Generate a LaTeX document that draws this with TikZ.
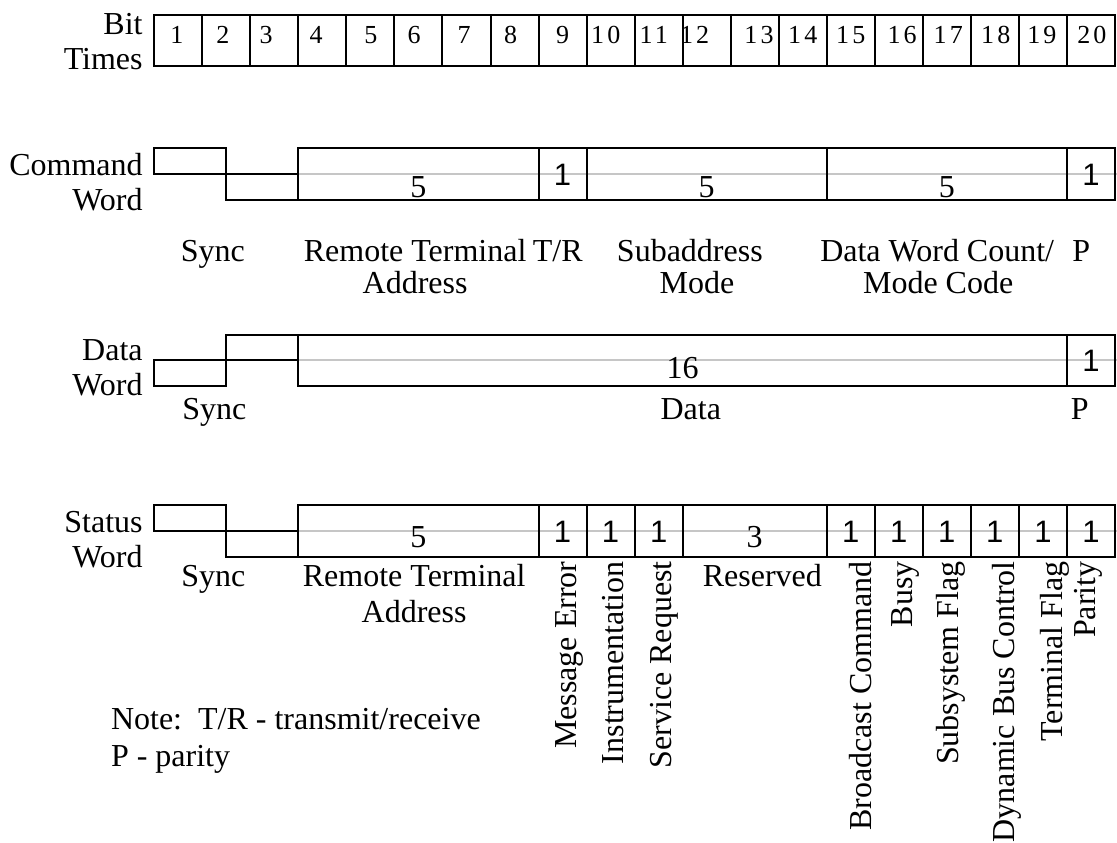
\documentclass[tikz,border=0pt]{standalone}
\usepackage{fontspec}
\setmainfont{Liberation Serif}
\setsansfont{Liberation Sans}
\usetikzlibrary{positioning}

\begin{document}
\begin{tikzpicture}[
x=24.015pt, y=-0.5pt,
wire/.style={line width=1pt},
midgray/.style={gray!45, line width=0.8pt},
lbl/.style={inner sep=0pt, font=\fontsize{16}{18}\selectfont},
side/.style={lbl, align=right, anchor=east, font=\fontsize{16}{17.5}\selectfont},
field/.style={lbl, anchor=base},
vert/.style={lbl, rotate=90, anchor=base east},
one/.style={lbl, font=\sffamily\fontsize{15.5}{18}\selectfont},
bitno/.style={inner sep=0pt, anchor=base, font=\fontsize{13}{15}\selectfont\addfontfeature{LetterSpace=12}}
]
    \useasboundingbox (-3.2126,0) rectangle (20.0437,842);

    % Bit times
    \draw[wire] (0,15) rectangle (20,66);
    \foreach \i in {1,...,19}
        \draw[wire] (\i,15) -- (\i,66);
    \foreach \n/\dx in {1/-0.03,2/-0.07,3/-0.17,4/-0.13,5/0.01,6/-0.09,7/-0.05,8/-0.08,9/0,10/-0.1,
                        11/-0.1,12/-0.25,13/0.09,14/0,15/0,16/0.07,17/0.03,18/0.02,19/-0.02,20/0.02}
        \node[bitno] (bit\n) at ({\n-0.5+\dx},43) {\n};
    \node[side] (bitlbl) at (-0.235,42) {Bit\\Times};

    % Command word
    \draw[midgray] (3,174) -- (20.04,174);
    \draw[wire] (0,148) rectangle (1.5,174);
    \draw[wire] (1.5,174) rectangle (3,200);
    \draw[wire] (3,148) rectangle (20,200);
    \foreach \i in {8,9,14,19}
        \draw[wire] (\i,148) -- (\i,200);
    \node[side] (cmdlbl) at (-0.235,182) {Command\\Word};
    \node[field] (cmdrtn) at (5.5,197) {5};
    \node[one] (cmdtrn) at (8.5,175) {1};
    \node[field] (cmdsan) at (11.5,197) {5};
    \node[field] (cmdwcn) at (16.5,197) {5};
    \node[one] (cmdpn) at (19.5,175) {1};

    \node[field] (cmdsync) at (1.22,261) {Sync};
    \node[field] (cmdrt) at (5.43,261) {Remote Terminal};
    \node[field] (cmdrt2) at (5.43,293) {Address};
    \node[field] (cmdtr) at (8.4,261) {T/R};
    \node[field] (cmdsa) at (11.15,261) {Subaddress};
    \node[field] (cmdsa2) at (11.3,293) {Mode};
    \node[field] (cmdwc) at (16.3,261) {Data Word Count/};
    \node[field] (cmdwc2) at (16.32,293) {Mode Code};
    \node[field] (cmdp) at (19.3,261) {P};

    % Data word
    \draw[midgray] (3,360) -- (20.04,360);
    \draw[wire] (0,360) rectangle (1.5,386);
    \draw[wire] (1.5,335) rectangle (3,360);
    \draw[wire] (3,335) rectangle (20,386);
    \draw[wire] (19,335) -- (19,386);
    \node[side] (datlbl) at (-0.235,368) {Data\\Word};
    \node[field] (datdn) at (11,378) {16};
    \node[one] (datpn) at (19.5,361) {1};

    \node[field] (datsync) at (1.25,419) {Sync};
    \node[field] (datd) at (11.17,419) {Data};
    \node[field] (datp) at (19.27,419) {P};

    % Status word
    \draw[midgray] (3,531) -- (20.04,531);
    \draw[wire] (0,505) rectangle (1.5,531);
    \draw[wire] (1.5,531) rectangle (3,557);
    \draw[wire] (3,505) rectangle (20,557);
    \foreach \i in {8,9,10,11,14,15,16,17,18,19}
        \draw[wire] (\i,505) -- (\i,557);
    \node[side] (stalbl) at (-0.235,540) {Status\\Word};
    \node[field] (start) at (5.5,547) {5};
    \node[field] (stares) at (12.5,547) {3};
    \foreach \i in {8,9,10,14,15,16,17,18,19}
        \node[one] (stabit\i) at (\i+0.5,532) {1};

    \node[field] (stasync) at (1.23,586) {Sync};
    \node[field] (start1) at (5.41,586) {Remote Terminal};
    \node[field] (start2) at (5.41,622) {Address};
    \node[field] (stareserved) at (12.66,586) {Reserved};
    \foreach \x/\t [count=\k] in {8.8/Message Error, 9.76/Instrumentation, 10.76/Service Request,
                                 14.93/Broadcast Command, 15.78/Busy, 16.74/Subsystem Flag,
                                 17.9/Dynamic Bus Control, 18.91/Terminal Flag, 19.6/Parity}
        \node[vert] (staflag\k) at (\x,561) {\t};

    % Note
    \node[field, anchor=base west] (note) at (-0.909,729) {Note:\ \ T/R - transmit/receive};
    \node[field, anchor=base west] (notep) at (-0.909,766) {P - parity};
\end{tikzpicture}
\end{document}
